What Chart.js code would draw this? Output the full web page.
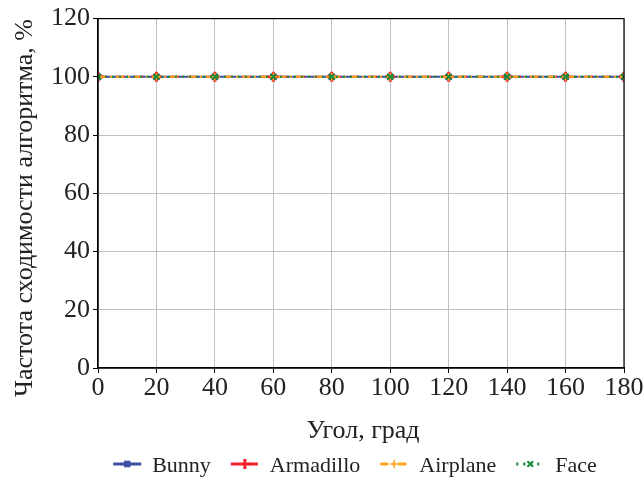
<!DOCTYPE html>
<html>
<head>
<meta charset="utf-8">
<script src="https://cdn.jsdelivr.net/npm/chart.js@4"></script>
<style>
  html, body { margin: 0; padding: 0; background: #fff; }
  #wrap { width: 644px; height: 477px; }
</style>
</head>
<body>
<div id="wrap"><canvas id="grafico"></canvas></div>
<script>
// Данные графика
const ugly = [0, 20, 40, 60, 80, 100, 120, 140, 160, 180];
const bunny = [100, 100, 100, 100, 100, 100, 100, 100, 100, 100];
const armadillo = [100, 100, 100, 100, 100, 100, 100, 100, 100, 100];
const airplane = [100, 100, 100, 100, 100, 100, 100, 100, 100, 100];
const face = [100, 100, 100, 100, 100, 100, 100, 100, 100, 100];
const nazvaniya = ["Bunny", "Armadillo", "Airplane", "Face"];
const podpisX = "Угол, град";
const podpisY = "Частота сходимости алгоритма, %";

const SHRIFT = "'Liberation Serif', 'Times New Roman', serif";
const TEKST = "#222";

function toPoints(vals) {
  return ugly.map((x, i) => ({ x: x, y: vals[i] }));
}

// order: меньшее значение рисуется поверх, поэтому Face сверху
const serii = [
  { label: nazvaniya[0], data: toPoints(bunny), borderColor: "#3a4fa3", backgroundColor: "#3a4fa3",
    borderDash: [], pointStyle: "rect", pointRadius: 4, pointBorderWidth: 1, order: 3 },
  { label: nazvaniya[1], data: toPoints(armadillo), borderColor: "#f0212b", backgroundColor: "#f0212b",
    borderDash: [9, 9], pointStyle: "cross", pointRadius: 5, pointBorderWidth: 3, order: 2 },
  { label: nazvaniya[2], data: toPoints(airplane), borderColor: "#ffa41b", backgroundColor: "#ffa41b",
    borderDash: [8, 4, 2, 4], pointStyle: "cross", pointRadius: 4, pointBorderWidth: 1.5, order: 1 },
  { label: nazvaniya[3], data: toPoints(face), borderColor: "#188a3c", backgroundColor: "#188a3c",
    borderDash: [2, 5], pointStyle: "crossRot", pointRadius: 4, pointBorderWidth: 2, order: 0 },
].map((s) => Object.assign(s, { borderWidth: 2, fill: false, tension: 0 }));

// Рамка вокруг области графика
const ramka = {
  id: "ramka",
  afterDraw(chart) {
    const { ctx, chartArea: a } = chart;
    ctx.save();
    ctx.strokeStyle = "#000";
    ctx.lineWidth = 1.2;
    ctx.strokeRect(a.left, a.top, a.right - a.left, a.bottom - a.top);
    ctx.restore();
  },
};

// Подписи осей (рисуем сами, чтобы поставить как на оригинале)
const podpisi = {
  id: "podpisi",
  afterDraw(chart) {
    const ctx = chart.ctx;
    const a = chart.chartArea;
    ctx.save();
    ctx.fillStyle = TEKST;
    ctx.font = "26px " + SHRIFT;
    ctx.textAlign = "center";
    ctx.textBaseline = "alphabetic";
    ctx.fillText(podpisX, (a.left + a.right) / 2 + 2, 438);
    ctx.translate(32, 208);
    ctx.rotate(-Math.PI / 2);
    ctx.fillText(podpisY, 0, 0);
    ctx.restore();
  },
};

// Легенда внизу: линия с маркером + подпись
const legenda = {
  id: "legenda",
  afterDraw(chart) {
    const ctx = chart.ctx;
    const y = 464;
    const lineLen = 28, gapText = 11, gapItem = 20;
    ctx.save();
    ctx.font = "22px " + SHRIFT;
    const widths = chart.data.datasets.map((d) => lineLen + gapText + ctx.measureText(d.label).width);
    const total = widths.reduce((a, b) => a + b, 0) + gapItem * (widths.length - 1);
    let x = 355 - total / 2;
    chart.data.datasets.forEach((d, i) => {
      ctx.strokeStyle = d.borderColor;
      ctx.fillStyle = d.backgroundColor;
      ctx.lineWidth = 3;
      ctx.setLineDash(d.borderDash);
      ctx.beginPath();
      ctx.moveTo(x, y);
      ctx.lineTo(x + lineLen, y);
      ctx.stroke();
      ctx.setLineDash([]);
      ctx.lineWidth = d.pointBorderWidth;
      Chart.helpers.drawPoint(ctx, {
        pointStyle: d.pointStyle, radius: d.pointRadius, borderWidth: d.pointBorderWidth,
        rotation: 0,
      }, x + lineLen / 2, y);
      ctx.fillStyle = TEKST;
      ctx.textBaseline = "alphabetic";
      ctx.textAlign = "left";
      ctx.fillText(d.label, x + lineLen + gapText, y + 8);
      x += widths[i] + gapItem;
    });
    ctx.restore();
  },
};

new Chart(document.getElementById("grafico").getContext("2d"), {
  type: "line",
  data: { datasets: serii },
  options: {
    responsive: true,
    maintainAspectRatio: false,
    animation: false,
    layout: { padding: { left: 0, right: 20, top: 18, bottom: 39 } },
    plugins: { legend: { display: false }, tooltip: { enabled: false } },
    elements: { point: { hoverRadius: 4 } },
    scales: {
      x: {
        type: "linear",
        min: 0,
        max: 180,
        afterFit: (s) => { s.height = 70; },
        ticks: { stepSize: 20, color: TEKST, font: { family: SHRIFT, size: 26 }, padding: 0, maxRotation: 0 },
        grid: { color: "#c0c0c0", lineWidth: 1, tickColor: "#000", tickLength: 5 },
        border: { color: "#000", width: 1.2 },
      },
      y: {
        min: 0,
        max: 120,
        afterFit: (s) => { s.width = 98; },
        ticks: { stepSize: 20, color: TEKST, font: { family: SHRIFT, size: 26 }, padding: 3 },
        grid: { color: "#c0c0c0", lineWidth: 1, tickColor: "#000", tickLength: 5 },
        border: { color: "#000", width: 1.2 },
      },
    },
  },
  plugins: [ramka, podpisi, legenda],
});
</script>
</body>
</html>
